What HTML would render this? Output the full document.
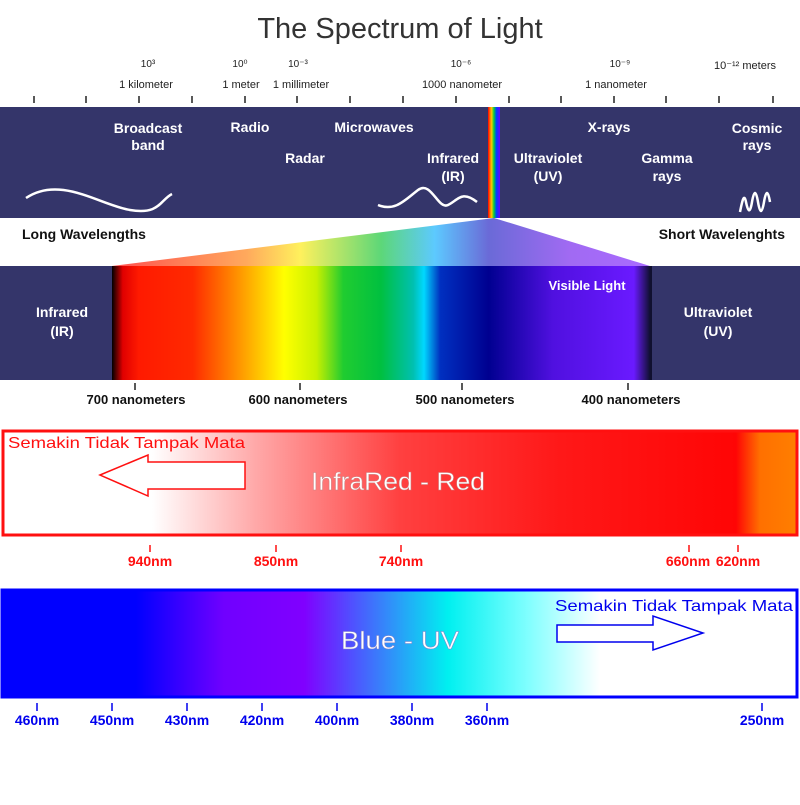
<!DOCTYPE html>
<html><head><meta charset="utf-8"><style>
body{margin:0;width:800px;height:800px;background:#fff;overflow:hidden}
svg text{font-family:"Liberation Sans Narrow","Liberation Sans",sans-serif}
</style></head><body>
<svg width="800" height="800" viewBox="0 0 800 800" xmlns="http://www.w3.org/2000/svg">
<defs>
<linearGradient id="spec" x1="112" x2="650" gradientUnits="userSpaceOnUse">
<stop offset="0" stop-color="#000"/><stop offset="0.02" stop-color="#e00000"/>
<stop offset="0.05" stop-color="#ff1a00"/><stop offset="0.15" stop-color="#ff2a00"/>
<stop offset="0.24" stop-color="#ff9a00"/><stop offset="0.32" stop-color="#ffff00"/>
<stop offset="0.38" stop-color="#c8f000"/><stop offset="0.43" stop-color="#20cc30"/>
<stop offset="0.5" stop-color="#00c040"/><stop offset="0.56" stop-color="#00c0b0"/>
<stop offset="0.58" stop-color="#00d8ff"/><stop offset="0.61" stop-color="#0030c0"/>
<stop offset="0.7" stop-color="#000090"/><stop offset="0.82" stop-color="#5010e0"/>
<stop offset="0.97" stop-color="#6a1aff"/><stop offset="1" stop-color="#101030"/>
</linearGradient>
<linearGradient id="fan" x1="112" x2="650" gradientUnits="userSpaceOnUse">
<stop offset="0" stop-color="#ff3030"/><stop offset="0.25" stop-color="#ff9a40"/>
<stop offset="0.35" stop-color="#ffee40"/><stop offset="0.5" stop-color="#40d060"/>
<stop offset="0.6" stop-color="#40c0ff"/><stop offset="0.7" stop-color="#5050d0"/>
<stop offset="0.85" stop-color="#9050f0"/><stop offset="1" stop-color="#9a50ff"/>
</linearGradient>
<linearGradient id="vrain" x1="488" x2="500" gradientUnits="userSpaceOnUse">
<stop offset="0" stop-color="#ff0000"/><stop offset="0.3" stop-color="#ffcc00"/>
<stop offset="0.5" stop-color="#00cc40"/><stop offset="0.7" stop-color="#0040ff"/><stop offset="1" stop-color="#6a00ff"/>
</linearGradient>
<linearGradient id="red" x1="0" x2="800" gradientUnits="userSpaceOnUse">
<stop offset="0" stop-color="#fff"/><stop offset="0.19" stop-color="#fff"/>
<stop offset="0.32" stop-color="#ffa8a8"/><stop offset="0.5" stop-color="#ff4040"/>
<stop offset="0.7" stop-color="#ff1818"/><stop offset="0.92" stop-color="#ff0505"/>
<stop offset="0.95" stop-color="#ff7000"/><stop offset="1" stop-color="#ff8000"/>
</linearGradient>
<linearGradient id="blue" x1="0" x2="800" gradientUnits="userSpaceOnUse">
<stop offset="0" stop-color="#0000ff"/><stop offset="0.17" stop-color="#0000ff"/>
<stop offset="0.28" stop-color="#7000ff"/><stop offset="0.38" stop-color="#8000ff"/>
<stop offset="0.44" stop-color="#5050ff"/><stop offset="0.56" stop-color="#00f0f0"/>
<stop offset="0.66" stop-color="#80ffff"/><stop offset="0.75" stop-color="#fff"/><stop offset="1" stop-color="#fff"/>
</linearGradient>
</defs>
<text x="400" y="38" text-anchor="middle" font-size="29" fill="#333" style="font-family:'Liberation Sans',sans-serif">The Spectrum of Light</text>
<g font-size="10" fill="#222" text-anchor="middle">
<text x="148" y="67">10³</text><text x="240" y="67">10⁰</text><text x="298" y="67">10⁻³</text>
<text x="461" y="67">10⁻⁶</text><text x="620" y="67">10⁻⁹</text><text x="745" y="69" font-size="11">10⁻¹² meters</text>
<text x="146" y="88" font-size="11">1 kilometer</text><text x="241" y="88" font-size="11">1 meter</text>
<text x="301" y="88" font-size="11">1 millimeter</text><text x="462" y="88" font-size="11">1000 nanometer</text>
<text x="616" y="88" font-size="11">1 nanometer</text>
</g>
<g stroke="#222" stroke-width="1.5">
<path d="M34 96v7M86 96v7M139 96v7M192 96v7M245 96v7M297 96v7M350 96v7M403 96v7M456 96v7M509 96v7M561 96v7M614 96v7M666 96v7M719 96v7M773 96v7"/>
</g>
<rect x="0" y="107" width="800" height="111" fill="#34356a"/>
<rect x="488" y="107" width="12" height="111" fill="url(#vrain)"/>
<g fill="#fff" font-size="14" font-weight="bold" text-anchor="middle">
<text x="148" y="133">Broadcast</text><text x="148" y="150">band</text>
<text x="250" y="132">Radio</text><text x="374" y="132">Microwaves</text>
<text x="305" y="163">Radar</text><text x="453" y="163">Infrared</text><text x="453" y="181">(IR)</text>
<text x="548" y="163">Ultraviolet</text><text x="548" y="181">(UV)</text>
<text x="609" y="132">X-rays</text><text x="667" y="163">Gamma</text><text x="667" y="181">rays</text>
<text x="757" y="133">Cosmic</text><text x="757" y="150">rays</text>
</g>
<g fill="none" stroke="#fff" stroke-width="2.5">
<path d="M26 198C60 175 100 205 130 210S160 200 172 194"/>
<path d="M378 205C395 212 405 200 418 190S438 210 448 205S462 190 477 202"/>
<path d="M740 212c2-10 4-20 6-10s4 12 6 0s4-12 6 0s4 12 6 0s4-12 6 0"/>
</g>
<polygon points="494,218 112,266 650,266" fill="url(#fan)" opacity="0.85"/>
<g font-size="14" font-weight="bold" fill="#111">
<text x="22" y="239">Long Wavelengths</text><text x="785" y="239" text-anchor="end">Short Wavelenghts</text>
</g>
<rect x="0" y="266" width="800" height="114" fill="#34356a"/>
<rect x="112" y="266" width="540" height="114" fill="url(#spec)"/>
<text x="587" y="290" fill="#fff" font-size="13" font-weight="bold" text-anchor="middle">Visible Light</text>
<g fill="#fff" font-size="14" font-weight="bold" text-anchor="middle">
<text x="62" y="317">Infrared</text><text x="62" y="336">(IR)</text>
<text x="718" y="317">Ultraviolet</text><text x="718" y="336">(UV)</text>
</g>
<g stroke="#222" stroke-width="1.5"><path d="M135 383v7M300 383v7M462 383v7M628 383v7"/></g>
<g font-size="13" font-weight="bold" fill="#111" text-anchor="middle">
<text x="136" y="404">700 nanometers</text><text x="298" y="404">600 nanometers</text>
<text x="465" y="404">500 nanometers</text><text x="631" y="404">400 nanometers</text>
</g>
<rect x="3" y="431" width="794" height="104" fill="url(#red)" stroke="#ff1010" stroke-width="3"/>
<text x="8" y="448" fill="#ff1010" font-size="16" textLength="237" lengthAdjust="spacingAndGlyphs">Semakin Tidak Tampak Mata</text>
<polygon points="100,475 148,455 148,462 245,462 245,489 148,489 148,496" fill="#fff" stroke="#ff1010" stroke-width="1.5"/>
<text x="398" y="490" fill="#fff" font-size="25" text-anchor="middle" stroke="#cc8080" stroke-width="0.5" textLength="174" lengthAdjust="spacingAndGlyphs">InfraRed - Red</text>
<g stroke="#ff1010" stroke-width="1.5"><path d="M150 545v7M276 545v7M401 545v7M689 545v7M738 545v7"/></g>
<g fill="#ff1010" font-size="14" font-weight="bold" text-anchor="middle">
<text x="150" y="566">940nm</text><text x="276" y="566">850nm</text><text x="401" y="566">740nm</text>
<text x="688" y="566">660nm</text><text x="738" y="566">620nm</text>
</g>
<rect x="2" y="590" width="795" height="107" fill="url(#blue)" stroke="#0000ff" stroke-width="3"/>
<text x="555" y="611" fill="#0000ee" font-size="16" textLength="238" lengthAdjust="spacingAndGlyphs">Semakin Tidak Tampak Mata</text>
<polygon points="557,625 653,625 653,616 703,633 653,650 653,642 557,642" fill="#fff" stroke="#0000ee" stroke-width="1.5"/>
<text x="400" y="649" fill="#fff" font-size="25" text-anchor="middle" stroke="#8080cc" stroke-width="0.5" textLength="118" lengthAdjust="spacingAndGlyphs">Blue - UV</text>
<g stroke="#0000ee" stroke-width="1.5"><path d="M37 703v8M112 703v8M187 703v8M262 703v8M337 703v8M412 703v8M487 703v8M762 703v8"/></g>
<g fill="#0000ee" font-size="14" font-weight="bold" text-anchor="middle">
<text x="37" y="725">460nm</text><text x="112" y="725">450nm</text><text x="187" y="725">430nm</text>
<text x="262" y="725">420nm</text><text x="337" y="725">400nm</text><text x="412" y="725">380nm</text>
<text x="487" y="725">360nm</text><text x="762" y="725">250nm</text>
</g>
</svg>
</body></html>
